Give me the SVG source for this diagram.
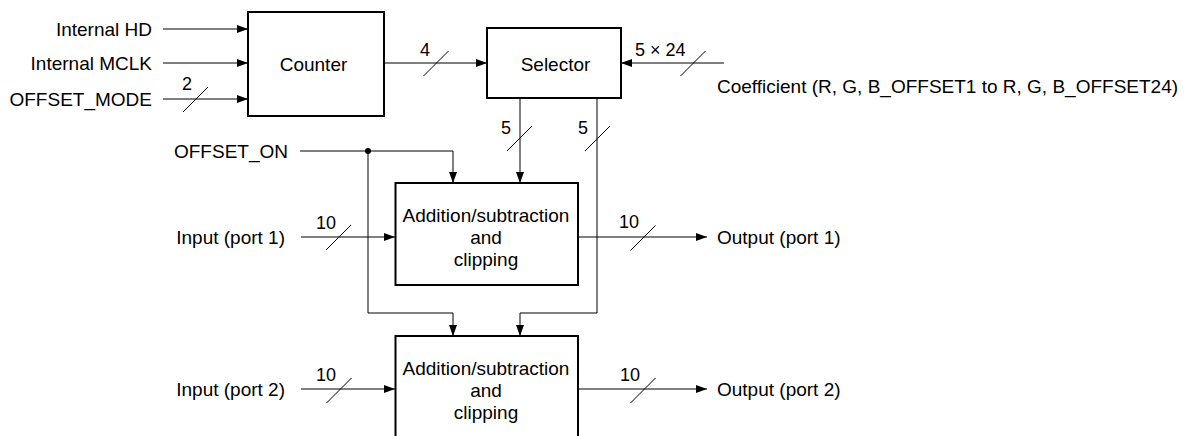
<svg xmlns="http://www.w3.org/2000/svg" width="1196" height="436" viewBox="0 0 1196 436">
<style>
text{font-family:"Liberation Sans",Arial,Helvetica,sans-serif;fill:#000}
.t{font-size:19px}
.n{font-size:18px}
.box{fill:#fff;stroke:#000;stroke-width:2}
.c{fill:none;stroke:#000;stroke-width:1}
.s{stroke:#000;stroke-width:1}
.m{text-anchor:middle}
.e{text-anchor:end}
</style>
<defs>
<marker id="ah" markerUnits="userSpaceOnUse" markerWidth="12" markerHeight="10" viewBox="0 -5 12 10" refX="11" refY="0" orient="auto">
<path d="M0,-4 L11,0 L0,4 Z" fill="#000"/>
</marker>
<line id="sl" x1="-12.5" y1="12.5" x2="12.5" y2="-12.5" class="s"/>
</defs>
<rect width="1196" height="436" fill="#fff"/>

<g id="connectors">
<line class="c" x1="163" y1="29" x2="248" y2="29" marker-end="url(#ah)"/>
<line class="c" x1="163" y1="63" x2="248" y2="63" marker-end="url(#ah)"/>
<line class="c" x1="163" y1="99" x2="248" y2="99" marker-end="url(#ah)"/>
<line class="c" x1="384" y1="63" x2="487" y2="63" marker-end="url(#ah)"/>
<line class="c" x1="724" y1="63" x2="621" y2="63" marker-end="url(#ah)"/>
<line class="c" x1="520" y1="98" x2="520" y2="183" marker-end="url(#ah)"/>
<polyline class="c" points="597,98 597,313 520,313 520,336" marker-end="url(#ah)"/>
<polyline class="c" points="300,151 453,151 453,183" marker-end="url(#ah)"/>
<polyline class="c" points="368,151 368,313 453,313 453,336" marker-end="url(#ah)"/>
<circle cx="368" cy="151" r="3" fill="#000"/>
<line class="c" x1="301" y1="237" x2="395" y2="237" marker-end="url(#ah)"/>
<line class="c" x1="578" y1="237" x2="707" y2="237" marker-end="url(#ah)"/>
<line class="c" x1="301" y1="389" x2="395" y2="389" marker-end="url(#ah)"/>
<line class="c" x1="578" y1="389" x2="707" y2="389" marker-end="url(#ah)"/>
<use href="#sl" x="195.5" y="99.5"/>
<use href="#sl" x="436" y="63.5"/>
<use href="#sl" x="693" y="63.5"/>
<use href="#sl" x="519.5" y="138.5"/>
<use href="#sl" x="597.5" y="138.5"/>
<use href="#sl" x="338.5" y="237.5"/>
<use href="#sl" x="643" y="238"/>
<use href="#sl" x="339" y="390.5"/>
<use href="#sl" x="643" y="390.5"/>
<text class="n" x="182" y="90">2</text>
<text class="n" x="420" y="56">4</text>
<text class="n" x="635" y="56">5 × 24</text>
<text class="n" x="501" y="134">5</text>
<text class="n" x="578" y="134">5</text>
<text class="n" x="316" y="229">10</text>
<text class="n" x="619" y="228">10</text>
<text class="n" x="316" y="381">10</text>
<text class="n" x="620" y="381">10</text>
</g>

<g id="inputs">
<text class="t e" x="152" y="36">Internal HD</text>
<text class="t e" x="152" y="70">Internal MCLK</text>
<text class="t e" x="152" y="106">OFFSET_MODE</text>
<text class="t e" x="288" y="158">OFFSET_ON</text>
<text class="t e" x="285" y="244">Input (port 1)</text>
<text class="t e" x="285" y="396">Input (port 2)</text>
<text class="t" x="717" y="93">Coefficient (R, G, B_OFFSET1 to R, G, B_OFFSET24)</text>
<text class="t" x="717" y="244">Output (port 1)</text>
<text class="t" x="717" y="396">Output (port 2)</text>
</g>

<g id="counter">
<rect class="box" x="248" y="12" width="136" height="104"/>
<text class="t m" x="313.5" y="71">Counter</text>
</g>

<g id="selector">
<rect class="box" x="487" y="28" width="134" height="70"/>
<text class="t m" x="555.5" y="71">Selector</text>
</g>

<g id="addsub1">
<rect class="box" x="395.5" y="183" width="182.5" height="102"/>
<text class="t m" x="486" y="222">Addition/subtraction</text>
<text class="t m" x="486" y="244">and</text>
<text class="t m" x="486" y="266">clipping</text>
</g>

<g id="addsub2">
<rect class="box" x="395.5" y="336" width="182.5" height="110"/>
<text class="t m" x="486" y="375">Addition/subtraction</text>
<text class="t m" x="486" y="397">and</text>
<text class="t m" x="486" y="419">clipping</text>
</g>
</svg>
